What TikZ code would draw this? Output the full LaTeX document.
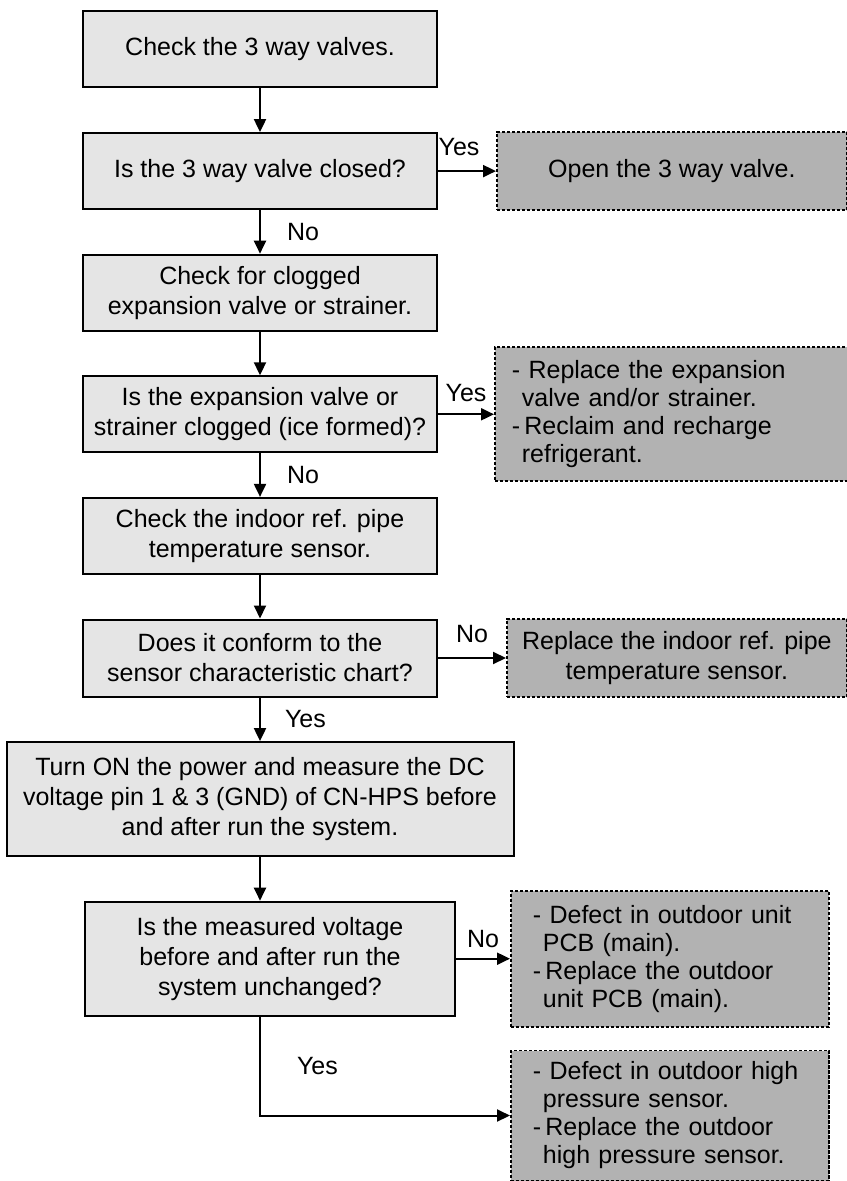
\documentclass[tikz,border=0pt]{standalone}
\usepackage{fontspec}
\setmainfont{Liberation Sans}
\usetikzlibrary{positioning,arrows.meta}

\begin{document}
\begin{tikzpicture}[
    node distance=21.8pt,
    font=\fontsize{12.5}{15}\selectfont,
    box/.style={
        rectangle,draw,line width=1pt,fill=black!10,
        minimum width=177pt,
        minimum height=38pt,
        align=center,inner sep=2pt
    },
    result/.style={
        rectangle,draw,line width=0.9pt,fill=black!30,
        dash pattern=on 1.6pt off 0.9pt,
        minimum height=39pt,
        align=center,inner sep=2pt
    },
    listbox/.style={
        result,align=left,
        font=\fontsize{12.5}{14}\selectfont
    },
    arrow/.style={-{Triangle[length=6.5pt,width=6pt]},line width=1pt},
    tag/.style={inner sep=1pt}
]
\useasboundingbox (0,0) rectangle (423pt,-590.5pt);

\node[box] (valves) at (130pt,-24.75pt) {Check the 3 way valves.};
\node[box, below=of valves] (closed) {Is the 3 way valve closed?};
\node[box, below=of closed] (clogcheck) {Check for clogged\\expansion valve or strainer.};
\node[box, below=of clogcheck] (clogged) {Is the expansion valve or\\strainer clogged (ice formed)?};
\node[box, below=of clogged] (pipecheck) {Check the indoor ref. pipe\\temperature sensor.};
\node[box, below=of pipecheck, minimum height=38.5pt] (conform) {Does it conform to the\\sensor characteristic chart?};
\node[box, below=of conform, minimum width=253.5pt, minimum height=57pt] (measure)
    {Turn ON the power and measure the DC\\voltage pin 1 \& 3 (GND) of CN-HPS before\\and after run the system.};
\node[box, below=of measure, xshift=5pt, minimum width=185pt, minimum height=57pt] (unchanged)
    {Is the measured voltage\\before and after run the\\system unchanged?};

% results on the right
\node[result, right=29pt of closed, minimum width=175pt] (openvalve) {Open the 3 way valve.};
\node[listbox, right=28pt of clogged, minimum height=67pt, text width=159.5pt, inner xsep=8.5pt] (replvalve)
    {- Replace the expansion\\\hspace*{5pt}valve and/or strainer.\\-\,Reclaim and recharge\\\hspace*{5pt}refrigerant.};
\node[result, right=34pt of conform, minimum width=170pt] (replpipe)
    {Replace the indoor ref. pipe\\temperature sensor.};
\node[listbox, right=27pt of unchanged, minimum height=68pt, text width=137pt, inner xsep=11pt] (defectpcb)
    {- Defect in outdoor unit\\\hspace*{5pt}PCB (main).\\-\,Replace the outdoor\\\hspace*{5pt}unit PCB (main).};
\node[listbox, below=11pt of defectpcb, minimum height=65pt, text width=137pt, inner xsep=11pt] (replsensor)
    {- Defect in outdoor high\\\hspace*{5pt}pressure sensor.\\-\,Replace the outdoor\\\hspace*{5pt}high pressure sensor.};

\draw[arrow] (valves) -- (closed);
\draw[arrow] (closed) -- node[tag,above,yshift=6pt,xshift=-4pt] {Yes} (openvalve);
\draw[arrow] (closed) -- node[tag,right,xshift=12pt] {No} (clogcheck);
\draw[arrow] (clogcheck) -- (clogged);
\draw[arrow] (clogged) -- node[tag,above,yshift=5pt] {Yes} (replvalve);
\draw[arrow] (clogged) -- node[tag,right,xshift=12pt] {No} (pipecheck);
\draw[arrow] (pipecheck) -- (conform);
\draw[arrow] (conform) -- node[tag,above,yshift=6pt] {No} (replpipe);
\draw[arrow] (conform) -- node[tag,right,xshift=11pt] {Yes} (measure);
\draw[arrow] (measure.south) -- (measure.south |- unchanged.north);
\draw[arrow] (unchanged) -- node[tag,above,yshift=4pt] {No} (defectpcb);
\draw[arrow] (unchanged.south -| measure.south) |- node[tag,pos=0.25,right,xshift=17pt] {Yes} (replsensor.west);
\end{tikzpicture}
\end{document}
